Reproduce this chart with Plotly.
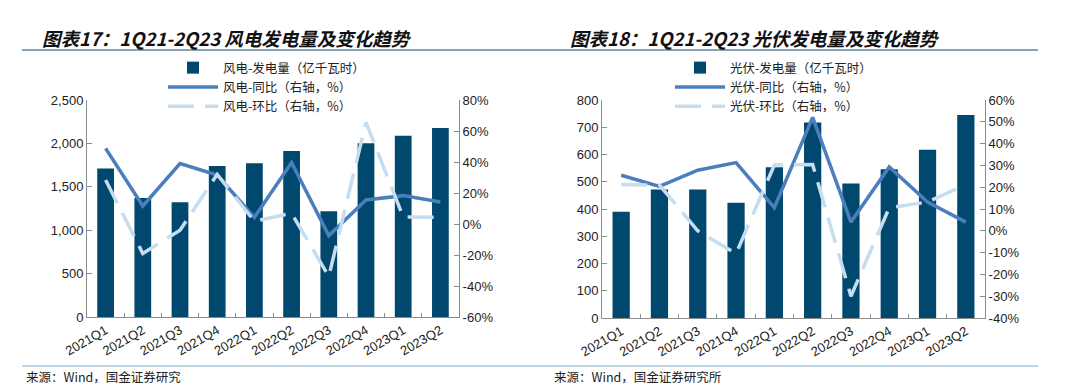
import plotly.graph_objects as go

categories = ["2021Q1", "2021Q2", "2021Q3", "2021Q4", "2022Q1",
              "2022Q2", "2022Q3", "2022Q4", "2023Q1", "2023Q2"]

wind_gen = [1712, 1371, 1321, 1740, 1771, 1912, 1218, 2001, 2089, 2177]
wind_yoy = [48.8, 11.6, 39.0, 31.6, 4.3, 39.6, -7.5, 15.5, 18.3, 14.2]
wind_qoq = [28.4, -19.0, -4.0, 32.0, 1.8, 6.9, -33.8, 65.6, 4.5, 4.3]

solar_gen = [390, 472, 472, 423, 553, 717, 494, 546, 617, 745]
solar_yoy = [25.5, 20.4, 27.8, 31.3, 10.6, 52.0, 4.0, 29.3, 13.2, 4.0]
solar_qoq = [21.2, 21.0, 0.0, -10.5, 30.2, 30.4, -30.0, 10.6, 13.2, 21.2]

left_ticks = [0, 500, 1000, 1500, 2000, 2500]
left_ticktext = ["0", "500", "1,000", "1,500", "2,000", "2,500"]
left_pct_ticks = [-60, -40, -20, 0, 20, 40, 60, 80]
right_ticks = [0, 100, 200, 300, 400, 500, 600, 700, 800]
right_pct_ticks = [-40, -30, -20, -10, 0, 10, 20, 30, 40, 50, 60]

BAR = "#00486e"
YOY = "#4a7ebd"
QOQ = "#c6ddf0"
CJK = "Noto Sans CJK SC"
NUM = "Liberation Sans"

# The page body has an 8px default margin; size the figure so it fills the window.
OFF = 8
W, H = 1080 - OFF, 391 - OFF

fig = go.Figure()

fig.add_trace(go.Bar(x=categories, y=wind_gen, name="风电-发电量（亿千瓦时）",
                     marker=dict(color=BAR, line=dict(width=0)),
                     xaxis="x", yaxis="y", legend="legend"))
fig.add_trace(go.Scatter(x=categories, y=wind_yoy, name="风电-同比（右轴，%）",
                         mode="lines", line=dict(color=YOY, width=3.5),
                         xaxis="x", yaxis="y2", legend="legend"))
fig.add_trace(go.Scatter(x=categories, y=wind_qoq, name="风电-环比（右轴，%）",
                         mode="lines", line=dict(color=QOQ, width=3.5, dash="26px,11px"),
                         xaxis="x", yaxis="y2", legend="legend"))

fig.add_trace(go.Bar(x=categories, y=solar_gen, name="光伏-发电量（亿千瓦时）",
                     marker=dict(color=BAR, line=dict(width=0)),
                     xaxis="x2", yaxis="y3", legend="legend2"))
fig.add_trace(go.Scatter(x=categories, y=solar_yoy, name="光伏-同比（右轴，%）",
                         mode="lines", line=dict(color=YOY, width=3.5),
                         xaxis="x2", yaxis="y4", legend="legend2"))
fig.add_trace(go.Scatter(x=categories, y=solar_qoq, name="光伏-环比（右轴，%）",
                         mode="lines", line=dict(color=QOQ, width=3.5, dash="26px,11px"),
                         xaxis="x2", yaxis="y4", legend="legend2"))

def px_x(v):
    return (v - OFF) / W

def px_y(v):
    return 1 - (v - OFF) / H

tickfont = dict(family=NUM, size=13, color="#222222")
axis_line = "#8c8c8c"

common_x = dict(type="category", showgrid=False, showline=True, linecolor=axis_line,
                linewidth=1, ticks="inside", ticklen=4, tickcolor=axis_line,
                tickson="boundaries", tickangle=-30, tickfont=tickfont, zeroline=False,
                automargin=False)
common_y = dict(showgrid=False, showline=True, linecolor=axis_line, linewidth=1,
                ticks="inside", ticklen=5, tickcolor=axis_line, tickfont=tickfont,
                zeroline=False, automargin=False)

legend_font = dict(family=CJK, size=12.5, color="#222222")

fig.update_layout(
    width=W, height=H,
    margin=dict(l=0, r=0, t=0, b=0, pad=0, autoexpand=False),
    paper_bgcolor="white", plot_bgcolor="white",
    bargap=0.55,
    xaxis=dict(domain=[px_x(87), px_x(459)], anchor="y", **common_x),
    yaxis=dict(domain=[px_y(317), px_y(100)], range=[0, 2500], tickvals=left_ticks,
               ticktext=left_ticktext, anchor="x", **common_y),
    yaxis2=dict(overlaying="y", side="right", anchor="x", range=[-60, 80],
                tickvals=left_pct_ticks, ticktext=[f"{v}%" for v in left_pct_ticks],
                **common_y),
    xaxis2=dict(domain=[px_x(602), px_x(985)], anchor="y3", **common_x),
    yaxis3=dict(domain=[px_y(318), px_y(100)], range=[0, 800], tickvals=right_ticks,
                anchor="x2", **common_y),
    yaxis4=dict(overlaying="y3", side="right", anchor="x2", range=[-40, 60],
                tickvals=right_pct_ticks, ticktext=[f"{v}%" for v in right_pct_ticks],
                **common_y),
    legend=dict(x=px_x(163), y=px_y(53), xanchor="left", yanchor="top",
                font=legend_font, itemwidth=50, bgcolor="rgba(0,0,0,0)",
                tracegroupgap=0, traceorder="normal"),
    legend2=dict(x=px_x(670), y=px_y(53), xanchor="left", yanchor="top",
                 font=legend_font, itemwidth=50, bgcolor="rgba(0,0,0,0)",
                 tracegroupgap=0, traceorder="normal"),
    showlegend=True,
)

title_font = dict(family=CJK, size=18.5, color="#111111", weight="bold", style="italic")
src_font = dict(family=CJK, size=12.5, color="#222222")

fig.add_annotation(text="图表17：1Q21-2Q23 风电发电量及变化趋势", xref="paper", yref="paper",
                   x=px_x(40), y=px_y(38), xanchor="left", yanchor="middle",
                   showarrow=False, font=title_font)
fig.add_annotation(text="图表18：1Q21-2Q23 光伏发电量及变化趋势", xref="paper", yref="paper",
                   x=px_x(568), y=px_y(38), xanchor="left", yanchor="middle",
                   showarrow=False, font=title_font)
fig.add_annotation(text="来源：Wind，国金证券研究", xref="paper", yref="paper",
                   x=px_x(24), y=px_y(376), xanchor="left", yanchor="middle",
                   showarrow=False, font=src_font)
fig.add_annotation(text="来源：Wind，国金证券研究所", xref="paper", yref="paper",
                   x=px_x(552), y=px_y(376), xanchor="left", yanchor="middle",
                   showarrow=False, font=src_font)

for x0, x1 in [(22, 540), (540, 1038)]:
    fig.add_shape(type="line", xref="paper", yref="paper", x0=px_x(x0), x1=px_x(x1),
                  y0=px_y(50), y1=px_y(50), line=dict(color="#5a87a8", width=1.5))
    fig.add_shape(type="line", xref="paper", yref="paper", x0=px_x(x0), x1=px_x(x1),
                  y0=px_y(366), y1=px_y(366), line=dict(color="#a9c8de", width=1.5))

fig.write_html("out.html")
